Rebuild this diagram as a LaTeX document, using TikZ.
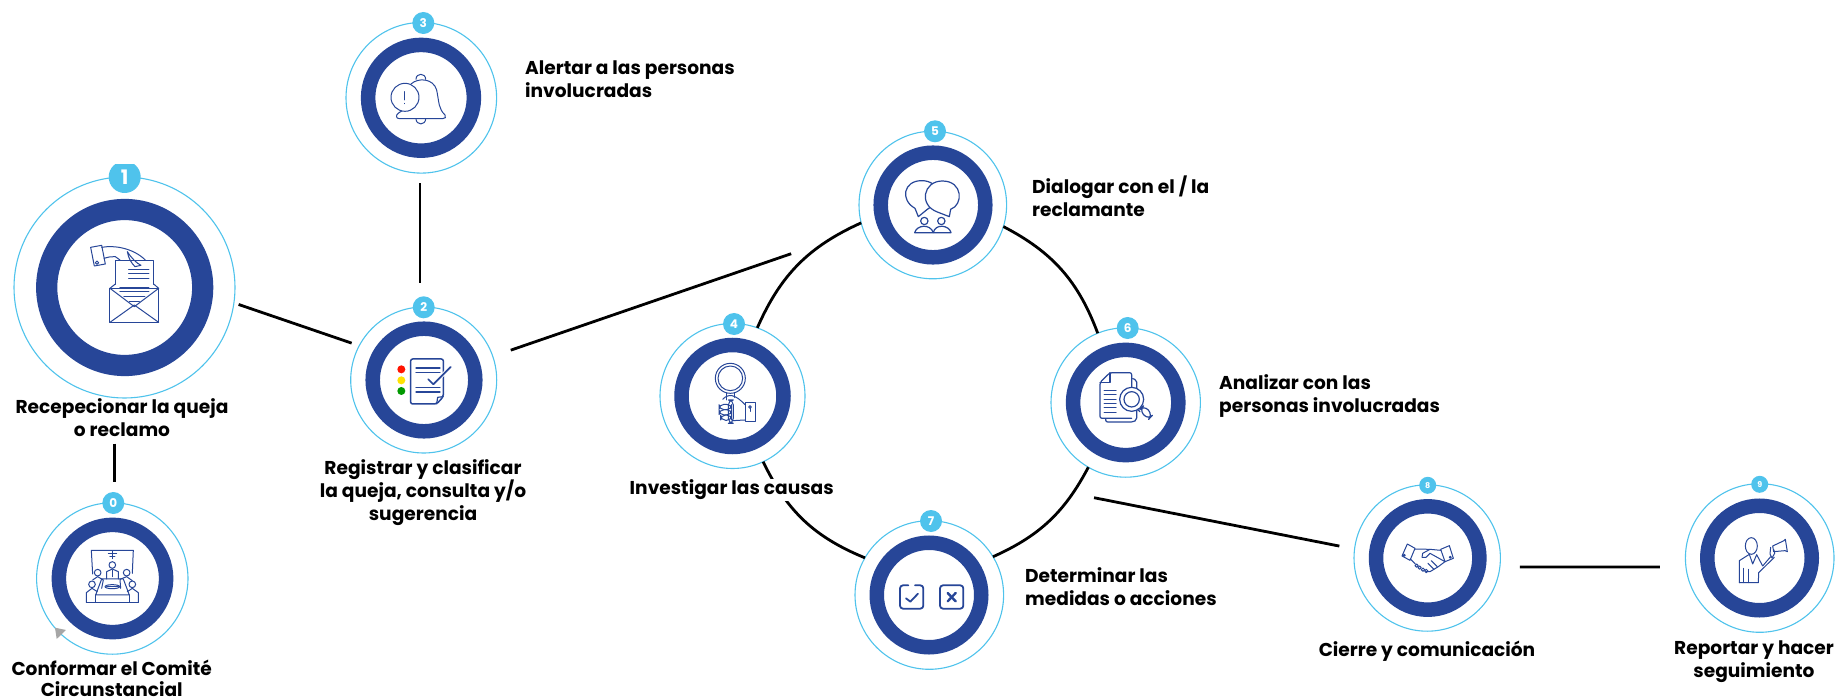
\documentclass[tikz,border=0pt]{standalone}
\usepackage{fontspec}
\setmainfont{Poppins}
\definecolor{bandblue}{HTML}{274698}
\definecolor{skyblue}{HTML}{4FC3EC}
\tikzset{
  outer/.style={circle,draw=skyblue,line width=1.1pt,fill=white,inner sep=0pt,outer sep=0pt,minimum size=#1},
  band/.style={circle,draw=bandblue,line width=14.5pt,inner sep=0pt,minimum size=#1},
  badge/.style={circle,fill=skyblue,text=white,inner sep=0pt,minimum size=22pt,font=\fontsize{12}{12}\selectfont\bfseries},
  link/.style={draw=black,line width=2.8pt},
  lbl/.style={font=\fontsize{18.6}{23}\selectfont\bfseries,text=black,align=center,inner sep=1pt},
  lbll/.style={lbl,align=left},
  icon/.style={draw=bandblue,line width=1pt,line join=round,line cap=round},
}
\begin{document}
\begin{tikzpicture}[x=1pt,y=-1pt]
\useasboundingbox (0,0) rectangle (1843,700);
% stages
\node [outer=221pt] (n1) at (124.5,287.5) {};
\node [band=156pt,line width=21.2pt] (b1) at (124.7,287.5) {};
\node [badge,minimum size=32pt,font=\fontsize{20}{20}\selectfont\bfseries] (t1) at (124.7,177) {1};
\fill [white] (100,155) rectangle (150,164);
\node [outer=151.4pt] (n0) at (112.3,578.5) {};
\node [band=107.3pt] (b0) at (112.5,578.5) {};
\node [badge] (t0) at (113.3,503) {0};
\node [outer=146pt] (n2) at (423.7,380) {};
\node [band=102.6pt] (b2) at (424,380) {};
\node [badge] (t2) at (423.7,307.3) {2};
\node [outer=150.6pt] (n3) at (421.3,97.8) {};
\node [band=105.8pt] (b3) at (421,97.8) {};
\node [badge] (t3) at (423.3,23) {3};
\node [outer=145pt] (n4) at (732.5,396) {};
\node [band=102pt] (b4) at (732.5,396) {};
\node [badge] (t4) at (734,324) {4};
\node [outer=147.6pt] (n5) at (932.8,205) {};
\node [band=104.6pt] (b5) at (933,205) {};
\node [badge] (t5) at (935,131.3) {5};
\node [outer=149.4pt] (n6) at (1125.7,402.5) {};
\node [band=105.3pt] (b6) at (1125.7,402.5) {};
\node [badge] (t6) at (1127.7,328) {6};
\node [outer=148.6pt] (n7) at (929.3,595) {};
\node [band=104.5pt] (b7) at (929,595) {};
\node [badge] (t7) at (931,521) {7};
\node [outer=146.4pt] (n8) at (1427.2,558) {};
\node [band=103.4pt] (b8) at (1427.7,558) {};
\node [badge,minimum size=17pt,font=\fontsize{8}{8}\selectfont\bfseries] (t8) at (1427.7,485.3) {8};
\node [outer=148.6pt] (n9) at (1759.7,558) {};
\node [band=104.5pt] (b9) at (1759.5,558) {};
\node [badge,minimum size=17pt,font=\fontsize{8}{8}\selectfont\bfseries] (t9) at (1759.7,484.3) {9};
% connectors
\coordinate (c8) at (1094,497.7);
\draw [link,shorten <=5pt,shorten >=8pt] (n1.-8) -- (n2.152);
\draw [link,shorten <=46pt,shorten >=21pt] (n1.-95) -- (n1.-95 |- n0.north);
\draw [link,shorten <=10pt,shorten >=24pt] (n3.-91) -- (n3.-91 |- n2.north);
\draw [link,shorten <=19pt,shorten >=76pt] (n2) ++(18.9:73pt) -- (n5);
\draw [link] (n4.70) to [bend left=21] (n5.194);
\draw [link] (n5.-17) to [bend left=21] (n6.112);
\draw [link] (n6.240) to [bend left=19] (n7.31);
\draw [link] (n7.150) to [bend left=21] (n4.-65);
\draw [link,shorten >=15.5pt] (c8) -- (n8.173);
\draw [link,shorten <=20pt,shorten >=26pt] (n8.-7) -- (n9.187);
% texts
\node [lbl,fill=white,inner sep=0pt] (l1) at (122,418) {Recepecionar la queja\\o reclamo};
\node [lbl,inner sep=0pt,font=\fontsize{18.6}{21.5}\selectfont\bfseries] (l0) at (111.7,678.5) {Conformar el Comité\\Circunstancial};
\node [lbl] (l2) at (423,493) {Registrar y clasificar\\la queja, consulta y/o\\sugerencia};
\node [lbll,anchor=west] (l3) at (524,79) {Alertar a las personas\\involucradas};
\node [lbl,fill=white] (l4) at (731.7,490) {Investigar las causas};
\node [lbll,anchor=west] (l5) at (1031,196.5) {Dialogar con el / la\\reclamante};
\node [lbll,anchor=west] (l6) at (1218,396) {Analizar con las\\personas involucradas};
\node [lbll,anchor=west] (l7) at (1024,587) {Determinar las\\medidas o acciones};
\node [lbl] (l8) at (1427,651) {Cierre y comunicación};
\node [lbl] (l9) at (1754,662) {Reportar y hacer\\seguimiento};
% cursor mark
\fill [gray!70] (55,627.7) -- (66,630) -- (56.7,639) -- cycle;
% icon 1, envelope
\begin{scope}[shift={(0,150)},scale=.3333]
\draw [icon] (305,292) .. controls (345,285) and (400,295) .. (436,330);
\draw [icon] (312,325) .. controls (325,322) and (335,318) .. (346,320) -- (360,330);
\draw [icon] (382,305) .. controls (395,325) and (410,340) .. (423,346) -- (405,350) .. controls (395,340) and (385,325) .. (382,305);
\draw [icon] (272,292) -- (305,286) -- (316,342) -- (283,348) -- cycle;
\draw [icon] (291,338) circle (5);
\draw [icon] (346,403) -- (346,331) -- (461,331) -- (461,403);
\foreach \ya in {358,372,386} \draw [icon] (386,\ya) -- (447,\ya);
\foreach \ya in {412,426} \draw [icon] (360,\ya) -- (447,\ya);
\draw [icon] (372,440) -- (435,440);
\draw [icon] (388,455) -- (418,455);
\draw [icon] (330,415) rectangle (476,517);
\draw [icon] (330,415) -- (346,402);
\draw [icon] (476,415) -- (461,402);
\draw [icon] (330,415) -- (403,470) -- (476,415);
\draw [icon] (330,517) -- (403,465) -- (476,517);
\end{scope}
% icon 0, meeting
\begin{scope}[shift={(0,480)},scale=.3333]
\draw [icon] (278,282) -- (274,211) -- (400,211) -- (397,280);
\draw [icon] (325,222) -- (350,222);
\draw [icon] (330,229) -- (345,229);
\draw [icon] (337,213) -- (337,236);
\draw [icon] (337,255) circle (10);
\draw [icon] (320,297) -- (320,275) -- (337,267) -- (355,275) -- (355,297);
\draw [icon] (337,270) -- (337,290);
\draw [icon] (293,278) circle (10);
\draw [icon] (380,278) circle (10);
\draw [icon] (276,313) circle (10);
\draw [icon] (397,313) circle (10);
\draw [icon] (278,300) -- (293,290) -- (310,300) -- (305,325);
\draw [icon] (362,325) -- (360,298) -- (380,290) -- (397,302);
\draw [icon] (259,367) -- (259,338) -- (276,325) -- (292,335);
\draw [icon] (415,367) -- (415,338) -- (397,325) -- (382,335);
\draw [icon] (305,297) -- (370,297) -- (388,345) -- (287,345) -- cycle;
\draw [icon] (287,345) -- (287,367);
\draw [icon] (388,345) -- (388,367);
\draw [icon] (259,367) -- (415,367);
\draw [icon] (337,320) ellipse (22 and 6);
\draw [icon] (320,320) -- (355,320);
\end{scope}
% icon 3, bell
\begin{scope}[shift={(330,0)},scale=.3333]
\draw [icon] (258,238) .. controls (258,218) and (287,218) .. (287,238);
\draw [icon] (243,252) .. controls (265,232) and (310,235) .. (320,270) .. controls (328,310) and (325,325) .. (345,345) .. controls (350,352) and (345,356) .. (338,356) -- (208,356) .. controls (198,356) and (196,345) .. (206,339) -- (215,333);
\draw [icon] (258,356) .. controls (258,377) and (287,377) .. (287,356);
\draw [icon] (225,292) circle (42);
\draw [icon] (225,275) -- (225,300);
\draw [icon] (225,310) -- (225,311);
\end{scope}
% icon 2, checklist
\begin{scope}[shift={(340,290)},scale=.3333]
\fill [red!85!orange] (184,238) circle (12);
\fill [yellow!85!orange] (184,271) circle (12);
\fill [green!60!black] (184,303) circle (12);
\draw [icon,line width=1.5pt,rounded corners=2pt] (212,207) -- (310,207) -- (310,320) -- (290,342) -- (212,342) -- cycle;
\draw [icon,line width=1.2pt] (290,342) -- (293,322) -- (310,320);
\foreach \ya in {234,247,292,306} \draw [icon,line width=1.3pt] (228,\ya) -- (300,\ya);
\draw [white,line width=3.5pt] (265,268) -- (280,283) -- (332,231);
\draw [icon,line width=1.7pt] (265,268) -- (280,283) -- (332,231);
\end{scope}
% icon 4, lens and hand
\begin{scope}[shift={(650,310)},scale=.3333]
\draw [icon] (241,205) circle (45);
\draw [icon] (241,205) circle (37);
\draw [icon] (228,250) -- (228,270);
\draw [icon] (252,250) -- (252,262);
\draw [icon] (218,268) .. controls (235,250) and (255,252) .. (285,284);
\draw [icon] (248,332) -- (285,330);
\draw [icon,rounded corners=5pt] (207,283) rectangle (245,299);
\draw [icon,rounded corners=5pt] (207,299) rectangle (245,315);
\draw [icon,rounded corners=5pt] (212,315) rectangle (245,331);
\draw [icon,rounded corners=5pt] (235,270) rectangle (250,340);
\draw [icon] (285,277) rectangle (317,335);
\draw [icon] (300,291) circle (4);
\draw [icon] (300,295) -- (300,304);
\end{scope}
% icon 5, dialog
\begin{scope}[shift={(850,110)},scale=.3333]
\draw [icon,line width=1.2pt,fill=white] (195,295) .. controls (150,270) and (160,212) .. (215,212) .. controls (270,212) and (280,270) .. (232,298) -- (205,320) -- cycle;
\draw [icon,line width=1.2pt,fill=white] (262,306) .. controls (205,285) and (220,213) .. (277,213) .. controls (340,213) and (340,285) .. (302,298) -- (298,320) -- cycle;
\draw [icon,line width=1.2pt] (223,333) circle (11);
\draw [icon,line width=1.2pt] (274,333) circle (11);
\draw [icon,line width=1.2pt] (194,368) .. controls (200,345) and (240,340) .. (250,368);
\draw [icon,line width=1.2pt] (250,368) .. controls (255,340) and (298,345) .. (303,368) -- (194,368);
\end{scope}
% icon 6, documents and lens
\begin{scope}[shift={(1040,320)},scale=.3333]
\draw [icon,line width=1.2pt,rounded corners=2pt] (278,176) -- (290,180) -- (290,300) -- (280,306) -- (197,306) -- (197,296);
\draw [icon,line width=1.2pt,rounded corners=2pt] (275,205) -- (275,158) -- (210,158) -- (180,187) -- (180,295) -- (275,295);
\draw [icon,line width=1.2pt] (210,158) -- (210,187) -- (180,187);
\foreach \ya in {211,225,238,251,264,278} \draw [icon] (192,\ya) -- (228,\ya);
\draw [icon,line width=1.2pt,fill=white] (275,238) circle (36);
\draw [icon,line width=1.2pt] (275,238) circle (23);
\draw [icon,line width=1.2pt] (292,268) -- (300,275);
\draw [icon,line width=1.2pt,rounded corners=6pt] (312,256) -- (338,285) -- (325,299) -- (298,270) -- cycle;
\end{scope}
% icon 7, check and cross
\begin{scope}[shift={(850,505)},scale=.3333]
\draw [icon,line width=1.8pt,rounded corners=3pt] (175,241) -- (150,241) -- (150,311) -- (220,311) -- (220,241) -- (195,241);
\draw [icon,line width=1.8pt] (168,280) -- (181,290) -- (204,266);
\draw [icon,line width=1.8pt,rounded corners=3pt] (270,241) rectangle (340,311);
\draw [icon,line width=2.4pt] (293,264) -- (317,289);
\draw [icon,line width=2.4pt] (317,264) -- (293,289);
\end{scope}
% icon 8, handshake
\begin{scope}[shift={(1350,470)},scale=.3333]
\draw [icon] (172,222) -- (195,235) -- (180,271) -- (156,258) -- cycle;
\draw [icon] (272,238) -- (298,227) -- (310,265) -- (285,275) -- cycle;
\draw [icon] (163,256) circle (3);
\draw [icon] (301,262) circle (3);
\draw [icon] (195,237) -- (240,238) -- (272,241);
\draw [icon] (240,238) -- (218,250) -- (216,262) -- (228,262) -- (240,250) -- (285,275);
\draw [icon] (181,267) -- (196,282);
\draw [icon] (285,275) -- (265,290) -- (240,305) -- (228,305);
\foreach \xa/\ya in {200/287,209/293,219/299,229/303} \draw [icon] (\xa,\ya) circle (5);
\draw [icon] (244,272) -- (262,290);
\draw [icon] (234,280) -- (252,298);
\end{scope}
% icon 9, speaker
\begin{scope}[shift={(1680,470)},scale=.3333]
\draw [icon] (214,228) ellipse (18 and 25);
\draw [icon] (178,338) -- (178,272) -- (208,253) -- (218,282) -- (230,254) -- (248,288) -- (272,260);
\draw [icon] (283,262) -- (236,308) -- (235,338) -- (178,338);
\draw [icon] (190,338) -- (190,295);
\draw [icon] (205,338) -- (205,298);
\draw [icon] (278,228) -- (312,212) -- (316,208) -- (322,245) -- (315,242) -- (281,245) -- cycle;
\draw [icon] (272,232) -- (270,252) -- (276,264) -- (284,250) -- (282,240);
\end{scope}
\end{tikzpicture}
\end{document}
